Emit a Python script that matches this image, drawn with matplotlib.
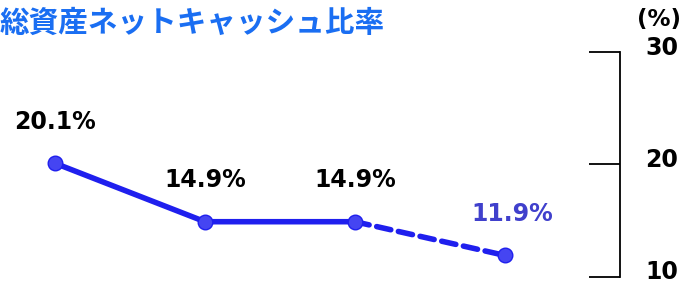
import matplotlib.pyplot as plt
import matplotlib.transforms as mtransforms

plt.rcParams['font.family'] = ['DejaVu Sans']

title = '総資産ネットキャッシュ比率'
x_idx = [0, 1, 2, 3]
ratio = [20.1, 14.9, 14.9, 11.9]
labels = ['20.1%', '14.9%', '14.9%', '11.9%']
y_ticks = [10, 20, 30]

line_col = '#1f1fee'
marker_col = '#4545f2'
fore_col = '#4040cc'

fig = plt.figure(figsize=(6.84, 2.81), dpi=100)
ax = fig.add_axes([0.0, 0.015, 620 / 684, 0.80])

# actual part (solid) and forecast part (dashed)
ax.plot(x_idx[:3], ratio[:3], '-', color=line_col, lw=4, solid_capstyle='round')
ax.plot(x_idx[2:], ratio[2:], '--', color=line_col, lw=4, dashes=(2.6, 1.4),
        dash_capstyle='round')
ax.plot(x_idx, ratio, 'o', color=marker_col, ms=10.5, mec=line_col, mew=1, zorder=3)

for i, (v, s) in enumerate(zip(ratio, labels)):
    c = fore_col if i == 3 else 'black'
    dx = 0.05 if i == 3 else 0
    ax.annotate(s, (x_idx[i] + dx, v), xytext=(0, 30), textcoords='offset points',
                ha='center', va='center', fontsize=17, fontweight='bold', color=c)

ax.set_xlim(-55 / 150, (620 - 55) / 150)
ax.set_ylim(10, 30)
ax.set_xticks([])
ax.set_yticks(y_ticks)
ax.yaxis.tick_right()
ax.tick_params(axis='y', direction='in', length=22, width=1.3, pad=18,
               labelsize=17, color='black')
shift = mtransforms.ScaledTranslation(0, 5 / 72, fig.dpi_scale_trans)
for t in ax.get_yticklabels():
    t.set_fontweight('bold')
    t.set_transform(t.get_transform() + shift)
for s in ['top', 'left', 'bottom']:
    ax.spines[s].set_visible(False)
ax.spines['right'].set_linewidth(1.3)

fig.text(0.0, 0.92, title, fontsize=21.3, fontweight='bold', color='#1a6ef2',
         family=['Noto Sans CJK JP', 'DejaVu Sans'], ha='left', va='center')
fig.text(0.963, 0.932, '(%)', fontsize=16.5, fontweight='bold', ha='center', va='center')

fig.savefig('out.png', dpi=100)
